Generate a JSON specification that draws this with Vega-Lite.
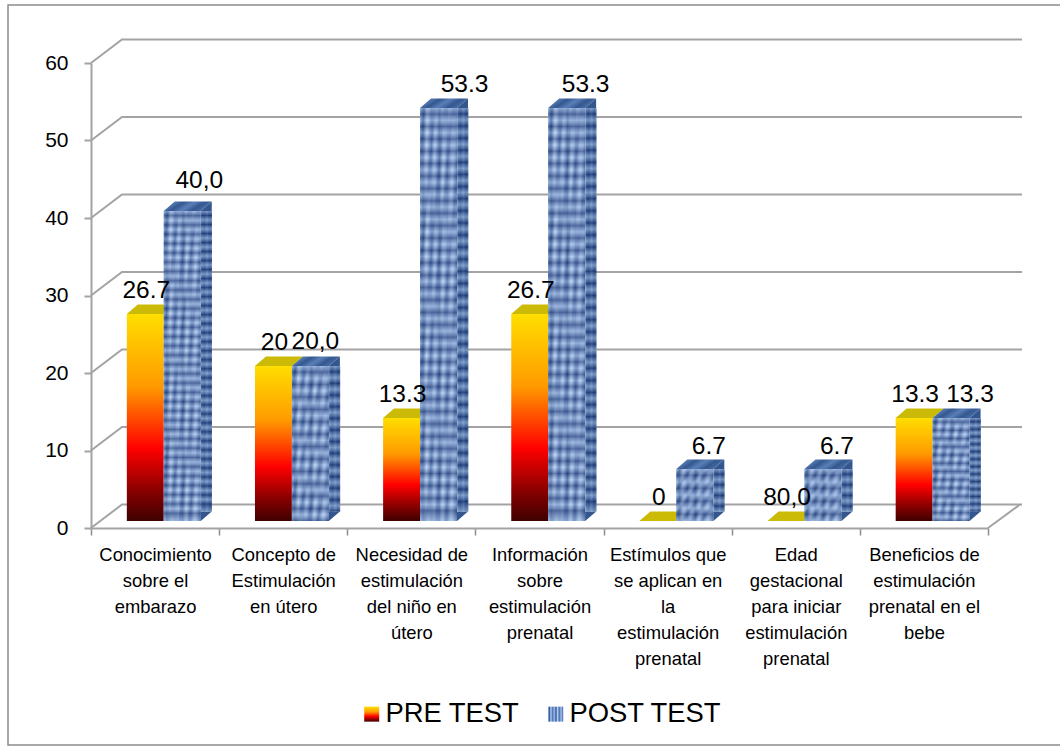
{
  "$schema": "https://vega.github.io/schema/vega-lite/v6.json",
  "autosize": "none",
  "padding": {"left": 91, "top": 63, "right": 72, "bottom": 220},
  "width": 897,
  "height": 465,
  "background": "white",
  "config": {"view": {"stroke": null}, "font": "Liberation Sans"},
  "params": [
    {"name": "gradPre", "value": {"gradient": "linear", "x1": 0, "y1": 0, "x2": 0, "y2": 1, "stops": [
      {"offset": 0, "color": "#ffde00"}, {"offset": 0.35, "color": "#ff9a00"},
      {"offset": 0.65, "color": "#ff0000"}, {"offset": 0.85, "color": "#8c0000"}, {"offset": 1, "color": "#3f0000"}]}},
    {"name": "gradPost", "value": {"gradient": "linear", "x1": 0, "y1": 0, "x2": 1, "y2": 0, "stops": [
      {"offset": 0, "color": "#6f95cc"}, {"offset": 0.08, "color": "#2f5699"}, {"offset": 0.18, "color": "#b4ccf0"},
      {"offset": 0.3, "color": "#4a70b2"}, {"offset": 0.4, "color": "#a4c0ec"}, {"offset": 0.52, "color": "#2f5699"},
      {"offset": 0.62, "color": "#b4ccf0"}, {"offset": 0.74, "color": "#4a70b2"}, {"offset": 0.86, "color": "#a4c0ec"},
      {"offset": 1, "color": "#3f66a8"}]}},
    {"name": "bandsDiag", "value": {"gradient": "linear", "x1": 0, "y1": 0, "x2": 1, "y2": 1, "stops": [
      {"offset": 0, "color": "rgba(235,245,255,0.16)"}, {"offset": 0.06, "color": "rgba(30,60,120,0.22)"},
      {"offset": 0.13, "color": "rgba(235,245,255,0.16)"}, {"offset": 0.2, "color": "rgba(30,60,120,0.22)"},
      {"offset": 0.25, "color": "rgba(235,245,255,0.16)"}, {"offset": 0.33, "color": "rgba(30,60,120,0.22)"},
      {"offset": 0.39, "color": "rgba(235,245,255,0.16)"}, {"offset": 0.44, "color": "rgba(30,60,120,0.22)"},
      {"offset": 0.52, "color": "rgba(235,245,255,0.16)"}, {"offset": 0.58, "color": "rgba(30,60,120,0.22)"},
      {"offset": 0.64, "color": "rgba(235,245,255,0.16)"}, {"offset": 0.71, "color": "rgba(30,60,120,0.22)"},
      {"offset": 0.77, "color": "rgba(235,245,255,0.16)"}, {"offset": 0.84, "color": "rgba(30,60,120,0.22)"},
      {"offset": 0.9, "color": "rgba(235,245,255,0.16)"}, {"offset": 1, "color": "rgba(30,60,120,0.22)"}]}},
    {"name": "bandsShort", "value": {"gradient": "linear", "x1": 0, "y1": 0, "x2": 0, "y2": 1, "stops": [
      {"offset": 0, "color": "rgba(205,228,255,0.42)"}, {"offset": 0.12, "color": "rgba(20,45,105,0.55)"},
      {"offset": 0.25, "color": "rgba(205,228,255,0.42)"}, {"offset": 0.37, "color": "rgba(20,45,105,0.55)"},
      {"offset": 0.5, "color": "rgba(205,228,255,0.42)"}, {"offset": 0.62, "color": "rgba(20,45,105,0.55)"},
      {"offset": 0.75, "color": "rgba(205,228,255,0.42)"}, {"offset": 0.87, "color": "rgba(20,45,105,0.55)"},
      {"offset": 1, "color": "rgba(205,228,255,0.42)"}]}},
    {"name": "bandsMid", "value": {"gradient": "linear", "x1": 0, "y1": 0, "x2": 0, "y2": 1, "stops": [
      {"offset": 0, "color": "rgba(205,228,255,0.42)"}, {"offset": 0.04, "color": "rgba(20,45,105,0.55)"},
      {"offset": 0.08, "color": "rgba(205,228,255,0.42)"}, {"offset": 0.12, "color": "rgba(20,45,105,0.55)"},
      {"offset": 0.16, "color": "rgba(205,228,255,0.42)"}, {"offset": 0.2, "color": "rgba(20,45,105,0.55)"},
      {"offset": 0.24, "color": "rgba(205,228,255,0.42)"}, {"offset": 0.28, "color": "rgba(20,45,105,0.55)"},
      {"offset": 0.32, "color": "rgba(205,228,255,0.42)"}, {"offset": 0.36, "color": "rgba(20,45,105,0.55)"},
      {"offset": 0.4, "color": "rgba(205,228,255,0.42)"}, {"offset": 0.44, "color": "rgba(20,45,105,0.55)"},
      {"offset": 0.48, "color": "rgba(205,228,255,0.42)"}, {"offset": 0.52, "color": "rgba(20,45,105,0.55)"},
      {"offset": 0.56, "color": "rgba(205,228,255,0.42)"}, {"offset": 0.6, "color": "rgba(20,45,105,0.55)"},
      {"offset": 0.64, "color": "rgba(205,228,255,0.42)"}, {"offset": 0.68, "color": "rgba(20,45,105,0.55)"},
      {"offset": 0.72, "color": "rgba(205,228,255,0.42)"}, {"offset": 0.76, "color": "rgba(20,45,105,0.55)"},
      {"offset": 0.8, "color": "rgba(205,228,255,0.42)"}, {"offset": 0.84, "color": "rgba(20,45,105,0.55)"},
      {"offset": 0.88, "color": "rgba(205,228,255,0.42)"}, {"offset": 0.92, "color": "rgba(20,45,105,0.55)"},
      {"offset": 0.96, "color": "rgba(205,228,255,0.42)"}, {"offset": 1, "color": "rgba(20,45,105,0.55)"}]}},
    {"name": "bandsTall", "value": {"gradient": "linear", "x1": 0, "y1": 0, "x2": 0, "y2": 1, "stops": [
      {"offset": 0, "color": "rgba(205,228,255,0.42)"}, {"offset": 0.015, "color": "rgba(20,45,105,0.55)"},
      {"offset": 0.03, "color": "rgba(205,228,255,0.42)"}, {"offset": 0.045, "color": "rgba(20,45,105,0.55)"},
      {"offset": 0.06, "color": "rgba(205,228,255,0.42)"}, {"offset": 0.075, "color": "rgba(20,45,105,0.55)"},
      {"offset": 0.09, "color": "rgba(205,228,255,0.42)"}, {"offset": 0.105, "color": "rgba(20,45,105,0.55)"},
      {"offset": 0.12, "color": "rgba(205,228,255,0.42)"}, {"offset": 0.135, "color": "rgba(20,45,105,0.55)"},
      {"offset": 0.15, "color": "rgba(205,228,255,0.42)"}, {"offset": 0.165, "color": "rgba(20,45,105,0.55)"},
      {"offset": 0.18, "color": "rgba(205,228,255,0.42)"}, {"offset": 0.195, "color": "rgba(20,45,105,0.55)"},
      {"offset": 0.21, "color": "rgba(205,228,255,0.42)"}, {"offset": 0.225, "color": "rgba(20,45,105,0.55)"},
      {"offset": 0.24, "color": "rgba(205,228,255,0.42)"}, {"offset": 0.255, "color": "rgba(20,45,105,0.55)"},
      {"offset": 0.27, "color": "rgba(205,228,255,0.42)"}, {"offset": 0.285, "color": "rgba(20,45,105,0.55)"},
      {"offset": 0.3, "color": "rgba(205,228,255,0.42)"}, {"offset": 0.315, "color": "rgba(20,45,105,0.55)"},
      {"offset": 0.33, "color": "rgba(205,228,255,0.42)"}, {"offset": 0.345, "color": "rgba(20,45,105,0.55)"},
      {"offset": 0.36, "color": "rgba(205,228,255,0.42)"}, {"offset": 0.375, "color": "rgba(20,45,105,0.55)"},
      {"offset": 0.39, "color": "rgba(205,228,255,0.42)"}, {"offset": 0.405, "color": "rgba(20,45,105,0.55)"},
      {"offset": 0.42, "color": "rgba(205,228,255,0.42)"}, {"offset": 0.435, "color": "rgba(20,45,105,0.55)"},
      {"offset": 0.45, "color": "rgba(205,228,255,0.42)"}, {"offset": 0.465, "color": "rgba(20,45,105,0.55)"},
      {"offset": 0.48, "color": "rgba(205,228,255,0.42)"}, {"offset": 0.495, "color": "rgba(20,45,105,0.55)"},
      {"offset": 0.51, "color": "rgba(205,228,255,0.42)"}, {"offset": 0.525, "color": "rgba(20,45,105,0.55)"},
      {"offset": 0.54, "color": "rgba(205,228,255,0.42)"}, {"offset": 0.555, "color": "rgba(20,45,105,0.55)"},
      {"offset": 0.57, "color": "rgba(205,228,255,0.42)"}, {"offset": 0.585, "color": "rgba(20,45,105,0.55)"},
      {"offset": 0.6, "color": "rgba(205,228,255,0.42)"}, {"offset": 0.615, "color": "rgba(20,45,105,0.55)"},
      {"offset": 0.63, "color": "rgba(205,228,255,0.42)"}, {"offset": 0.645, "color": "rgba(20,45,105,0.55)"},
      {"offset": 0.66, "color": "rgba(205,228,255,0.42)"}, {"offset": 0.675, "color": "rgba(20,45,105,0.55)"},
      {"offset": 0.69, "color": "rgba(205,228,255,0.42)"}, {"offset": 0.705, "color": "rgba(20,45,105,0.55)"},
      {"offset": 0.72, "color": "rgba(205,228,255,0.42)"}, {"offset": 0.735, "color": "rgba(20,45,105,0.55)"},
      {"offset": 0.75, "color": "rgba(205,228,255,0.42)"}, {"offset": 0.765, "color": "rgba(20,45,105,0.55)"},
      {"offset": 0.78, "color": "rgba(205,228,255,0.42)"}, {"offset": 0.795, "color": "rgba(20,45,105,0.55)"},
      {"offset": 0.81, "color": "rgba(205,228,255,0.42)"}, {"offset": 0.825, "color": "rgba(20,45,105,0.55)"},
      {"offset": 0.84, "color": "rgba(205,228,255,0.42)"}, {"offset": 0.855, "color": "rgba(20,45,105,0.55)"},
      {"offset": 0.87, "color": "rgba(205,228,255,0.42)"}, {"offset": 0.885, "color": "rgba(20,45,105,0.55)"},
      {"offset": 0.9, "color": "rgba(205,228,255,0.42)"}, {"offset": 0.915, "color": "rgba(20,45,105,0.55)"},
      {"offset": 0.93, "color": "rgba(205,228,255,0.42)"}, {"offset": 0.945, "color": "rgba(20,45,105,0.55)"},
      {"offset": 0.96, "color": "rgba(205,228,255,0.42)"}, {"offset": 0.975, "color": "rgba(20,45,105,0.55)"},
      {"offset": 1, "color": "rgba(205,228,255,0.42)"}]}}
  ],
  "datasets": {
    "resultados": [
      {"tema": "Conocimiento\nsobre el\nembarazo", "prueba": "PRE TEST", "valor": 26.7, "etiqueta": "26.7"},
      {"tema": "Conocimiento\nsobre el\nembarazo", "prueba": "POST TEST", "valor": 40, "etiqueta": "40,0"},
      {"tema": "Concepto de\nEstimulación\nen útero", "prueba": "PRE TEST", "valor": 20, "etiqueta": "20"},
      {"tema": "Concepto de\nEstimulación\nen útero", "prueba": "POST TEST", "valor": 20, "etiqueta": "20,0"},
      {"tema": "Necesidad de\nestimulación\ndel  niño en\nútero", "prueba": "PRE TEST", "valor": 13.3, "etiqueta": "13.3"},
      {"tema": "Necesidad de\nestimulación\ndel  niño en\nútero", "prueba": "POST TEST", "valor": 53.3, "etiqueta": "53.3"},
      {"tema": "Información\nsobre\nestimulación\nprenatal", "prueba": "PRE TEST", "valor": 26.7, "etiqueta": "26.7"},
      {"tema": "Información\nsobre\nestimulación\nprenatal", "prueba": "POST TEST", "valor": 53.3, "etiqueta": "53.3"},
      {"tema": "Estímulos que\nse aplican en\nla\nestimulación\nprenatal", "prueba": "PRE TEST", "valor": 0, "etiqueta": "0"},
      {"tema": "Estímulos que\nse aplican en\nla\nestimulación\nprenatal", "prueba": "POST TEST", "valor": 6.7, "etiqueta": "6.7"},
      {"tema": "Edad\ngestacional\npara iniciar\nestimulación\nprenatal", "prueba": "PRE TEST", "valor": 0, "etiqueta": "80,0"},
      {"tema": "Edad\ngestacional\npara iniciar\nestimulación\nprenatal", "prueba": "POST TEST", "valor": 6.7, "etiqueta": "6.7"},
      {"tema": "Beneficios de\nestimulación\nprenatal en el\nbebe", "prueba": "PRE TEST", "valor": 13.3, "etiqueta": "13.3"},
      {"tema": "Beneficios de\nestimulación\nprenatal en el\nbebe", "prueba": "POST TEST", "valor": 13.3, "etiqueta": "13.3"}
    ],
    "marcas": [{"marca": 0}, {"marca": 10}, {"marca": 20}, {"marca": 30}, {"marca": 40}, {"marca": 50}, {"marca": 60}]
  },
  "layer": [
    {
      "data": {"values": [{"tope": 60}]},
      "mark": {"type": "point", "shape": "M-83,-58L980,-58L980,682L-83,682Z", "size": 4, "filled": false, "fill": "transparent", "stroke": "#8c8c8c", "strokeWidth": 1.5, "opacity": 1},
      "encoding": {
        "x": {"datum": "Conocimiento\nsobre el\nembarazo", "type": "nominal", "bandPosition": 0},
        "y": {"field": "tope", "type": "quantitative"}
      }
    },
    {
      "data": {"name": "marcas"},
      "mark": {"type": "point", "shape": "M0,0L31,-23.5L931,-23.5", "size": 4, "filled": false, "fill": "transparent", "stroke": "#a3a3a3", "strokeWidth": 2, "opacity": 1},
      "encoding": {
        "x": {"datum": "Conocimiento\nsobre el\nembarazo", "type": "nominal", "bandPosition": 0},
        "y": {"field": "marca", "type": "quantitative"}
      }
    },
    {
      "data": {"values": [{"suelo": 0}]},
      "mark": {"type": "point", "shape": "M0,0L32,-23.5", "size": 4, "filled": false, "fill": "transparent", "stroke": "#a3a3a3", "strokeWidth": 2, "opacity": 1},
      "encoding": {
        "x": {"datum": "Beneficios de\nestimulación\nprenatal en el\nbebe", "type": "nominal", "bandPosition": 1},
        "y": {"field": "suelo", "type": "quantitative"}
      }
    },
    {
      "data": {"name": "resultados"},
      "encoding": {
        "x": {
          "field": "tema", "type": "nominal", "sort": null, "title": null,
          "scale": {
            "domain": [
              "Conocimiento\nsobre el\nembarazo", "Concepto de\nEstimulación\nen útero", "Necesidad de\nestimulación\ndel  niño en\nútero",
              "Información\nsobre\nestimulación\nprenatal", "Estímulos que\nse aplican en\nla\nestimulación\nprenatal",
              "Edad\ngestacional\npara iniciar\nestimulación\nprenatal", "Beneficios de\nestimulación\nprenatal en el\nbebe"
            ],
            "paddingInner": 0, "paddingOuter": 0
          },
          "axis": {
            "tickBand": "extent", "labelAngle": 0, "labelFontSize": 18.4, "labelColor": "black", "labelLineHeight": 26,
            "labelExpr": "split(datum.label,'\\n')", "labelPadding": 10, "labelLimit": 300, "labelAlign": "center", "labelBaseline": "top", "labelOverlap": false,
            "domainColor": "#a3a3a3", "domainWidth": 2, "tickColor": "#8c8c8c", "tickWidth": 1.5, "tickSize": 7, "grid": false
          }
        },
        "y": {
          "field": "valor", "type": "quantitative", "title": null,
          "scale": {"domain": [0, 60], "nice": false},
          "axis": {
            "values": [0, 10, 20, 30, 40, 50, 60], "labelFontSize": 21, "labelColor": "black", "labelPadding": 16,
            "domainColor": "#a3a3a3", "domainWidth": 2, "tickColor": "#a3a3a3", "tickWidth": 2, "tickSize": 7, "grid": false
          }
        }
      },
      "layer": [
        {
          "transform": [{"filter": "datum.prueba == 'PRE TEST'"}],
          "mark": {"type": "point", "shape": "M-18.5,0L-7.5,-9.5L29.5,-9.5L18.5,0Z", "size": 4, "filled": true, "fill": "#cbbb06", "stroke": null, "opacity": 1, "yOffset": -7},
          "encoding": {"xOffset": {"field": "prueba", "type": "nominal", "scale": {"domain": ["PRE TEST", "POST TEST"], "paddingInner": 0, "paddingOuter": 0.735, "align": 0.66}}}
        },
        {
          "mark": {"type": "bar", "yOffset": -7, "y2Offset": -7},
          "encoding": {
            "xOffset": {"field": "prueba", "type": "nominal"},
            "fill": {
              "field": "prueba", "type": "nominal",
              "scale": {
                "domain": ["PRE TEST", "POST TEST"],
                "range": [{"expr": "gradPre"}, {"expr": "gradPost"}]
              },
              "legend": {
                "title": null, "orient": "none", "legendX": 267, "legendY": 637, "direction": "horizontal",
                "symbolType": "square", "symbolSize": 225, "symbolStrokeWidth": 0, "labelFontSize": 27.4, "labelColor": "black",
                "labelOffset": 0, "columnPadding": 22, "labelLimit": 300
              }
            }
          }
        },
        {
          "transform": [{"filter": "datum.prueba == 'POST TEST'"}],
          "mark": {"type": "bar", "yOffset": -7, "y2Offset": -7},
          "encoding": {
            "xOffset": {"field": "prueba", "type": "nominal"},
            "fill": {"value": {"expr": "datum.valor > 30 ? bandsTall : datum.valor > 10 ? bandsMid : bandsShort"}}
          }
        },
        {
          "transform": [{"filter": "datum.prueba == 'POST TEST'"}],
          "mark": {"type": "bar", "yOffset": -7, "y2Offset": -7, "fill": {"expr": "bandsDiag"}},
          "encoding": {"xOffset": {"field": "prueba", "type": "nominal"}}
        },
        {
          "transform": [{"filter": "datum.prueba == 'POST TEST'"}],
          "mark": {
            "type": "point", "shape": "M-18.5,0L-7.5,-9.5L29.5,-9.5L18.5,0Z", "size": 4, "filled": true, "stroke": null, "opacity": 1, "yOffset": -7,
            "fill": {"gradient": "linear", "x1": 0, "y1": 0, "x2": 1, "y2": 0.3, "stops": [
              {"offset": 0, "color": "#3d629f"}, {"offset": 0.2, "color": "#5a7fb8"}, {"offset": 0.4, "color": "#34578f"},
              {"offset": 0.6, "color": "#5a7fb8"}, {"offset": 0.8, "color": "#34578f"}, {"offset": 1, "color": "#4a6ea8"}]}
          },
          "encoding": {"xOffset": {"field": "prueba", "type": "nominal"}}
        },
        {
          "transform": [{"filter": "datum.prueba == 'POST TEST'"}],
          "mark": {"type": "point", "shape": "M18.5,0L29.5,-9.5L29.5,0Z", "size": 4, "filled": true, "fill": "#34568f", "stroke": null, "opacity": 1, "yOffset": -7},
          "encoding": {"xOffset": {"field": "prueba", "type": "nominal"}}
        },
        {
          "transform": [{"filter": "datum.prueba == 'POST TEST'"}],
          "mark": {"type": "point", "shape": "M18.5,-9.5L18.5,0L29.5,-9.5Z", "size": 4, "filled": true, "fill": "#34568f", "stroke": null, "opacity": 1, "yOffset": -7},
          "encoding": {"xOffset": {"field": "prueba", "type": "nominal"}, "y": {"datum": 0}}
        },
        {
          "transform": [{"filter": "datum.prueba == 'POST TEST'"}],
          "mark": {
            "type": "rect", "yOffset": -7, "y2Offset": -16.5,
            "fill": {"gradient": "linear", "x1": 0, "y1": 0, "x2": 1, "y2": 0, "stops": [
              {"offset": 0, "color": "#4a6fa9"}, {"offset": 0.3, "color": "#2c4e8a"}, {"offset": 0.55, "color": "#5579b2"},
              {"offset": 0.8, "color": "#27467f"}, {"offset": 1, "color": "#466aa3"}]}
          },
          "encoding": {
            "x": {"field": "tema", "type": "nominal", "bandPosition": 0.8585},
            "x2": {"field": "tema", "bandPosition": 0.9443},
            "y2": {"datum": 0}
          }
        },
        {
          "transform": [{"filter": "datum.prueba == 'POST TEST'"}],
          "mark": {"type": "rect", "yOffset": -7, "y2Offset": -16.5},
          "encoding": {
            "x": {"field": "tema", "type": "nominal", "bandPosition": 0.8585},
            "x2": {"field": "tema", "bandPosition": 0.9443},
            "y2": {"datum": 0},
            "fill": {"value": {"expr": "datum.valor > 30 ? bandsTall : datum.valor > 10 ? bandsMid : bandsShort"}}
          }
        },
        {
          "transform": [{"filter": "datum.prueba == 'PRE TEST'"}],
          "mark": {"type": "text", "fontSize": 24.5, "color": "black", "baseline": "middle", "dx": 1, "dy": -30},
          "encoding": {"xOffset": {"field": "prueba", "type": "nominal"}, "text": {"field": "etiqueta"}}
        },
        {
          "transform": [{"filter": "datum.prueba == 'POST TEST' && test(/^Conocimiento/, datum.tema)"}],
          "mark": {"type": "text", "fontSize": 24.5, "color": "black", "baseline": "middle", "dx": 17, "dy": -37},
          "encoding": {"xOffset": {"field": "prueba", "type": "nominal"}, "text": {"field": "etiqueta"}}
        },
        {
          "transform": [{"filter": "datum.prueba == 'POST TEST' && test(/^Concepto/, datum.tema)"}],
          "mark": {"type": "text", "fontSize": 24.5, "color": "black", "baseline": "middle", "dx": 5, "dy": -31},
          "encoding": {"xOffset": {"field": "prueba", "type": "nominal"}, "text": {"field": "etiqueta"}}
        },
        {
          "transform": [{"filter": "datum.prueba == 'POST TEST' && test(/^Necesidad/, datum.tema)"}],
          "mark": {"type": "text", "fontSize": 24.5, "color": "black", "baseline": "middle", "dx": 26, "dy": -30},
          "encoding": {"xOffset": {"field": "prueba", "type": "nominal"}, "text": {"field": "etiqueta"}}
        },
        {
          "transform": [{"filter": "datum.prueba == 'POST TEST' && test(/^(Información|Beneficios)/, datum.tema)"}],
          "mark": {"type": "text", "fontSize": 24.5, "color": "black", "baseline": "middle", "dx": 19, "dy": -30},
          "encoding": {"xOffset": {"field": "prueba", "type": "nominal"}, "text": {"field": "etiqueta"}}
        },
        {
          "transform": [{"filter": "datum.prueba == 'POST TEST' && test(/^(Estímulos|Edad)/, datum.tema)"}],
          "mark": {"type": "text", "fontSize": 24.5, "color": "black", "baseline": "middle", "dx": 14, "dy": -29},
          "encoding": {"xOffset": {"field": "prueba", "type": "nominal"}, "text": {"field": "etiqueta"}}
        }
      ]
    }
  ]
}
